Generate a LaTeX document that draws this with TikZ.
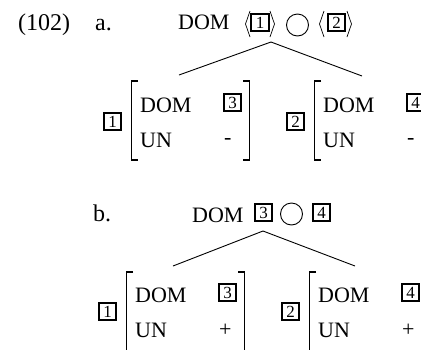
\documentclass[tikz,border=0pt]{standalone}
\usepackage{fontspec}
\setmainfont{Liberation Serif}
\begin{document}
\begin{tikzpicture}[x=1pt,y=-1pt,
  lbl/.style={inner sep=0pt, anchor=base west, font=\fontsize{24}{28}\selectfont},
  feat/.style={inner sep=0pt, anchor=base west, font=\fontsize{22}{26}\selectfont},
  tag/.style={draw, line width=1.8pt, minimum width=17.5pt, minimum height=17.5pt, inner sep=0pt, font=\fontsize{17}{20}\selectfont},
  brk/.style={line width=1.3pt},
  edge/.style={line width=0.9pt},
  ang/.style={line width=0.7pt},
  circ/.style={draw, circle, line width=0.9pt, minimum size=22pt, inner sep=0pt}]
\useasboundingbox (0,0) rectangle (421,349);
\clip (0,0) rectangle (421,349);

% ---------- (102) a. ----------
\node[lbl] (num) at (18,30) {(102)};
\node[lbl] (la) at (95,30) {a.};
\node[feat] (adom) at (178,29) {DOM};
\node[tag] (at1) at (260,22.5) {1};
\node[circ] (acirc) at (297.5,25) {};
\node[tag] (at2) at (336.5,22.5) {2};
% angle brackets
\draw[ang] (250,11) -- (245.5,24) -- (250,37);
\draw[ang] (270,11) -- (274.5,24) -- (270,37);
\draw[ang] (324,11) -- (319.5,24) -- (324,37);
\draw[ang] (347,11) -- (351.5,24) -- (347,37);
% tree
\coordinate (aapex) at (271,42);
\coordinate (aleft) at (179,75);
\coordinate (aright) at (362,76);
\draw[edge] (aapex) -- (aleft);
\draw[edge] (aapex) -- (aright);

% left AVM (a)
\node[tag] (al1) at (112.5,121.5) {1};
\draw[brk] (138,81) -- (131.5,81) -- (131.5,160) -- (138,160);
\node[feat] (aldom) at (140,112) {DOM};
\node[tag] (al3) at (232.5,102.5) {3};
\node[feat] (alun) at (140,147) {UN};
\node[feat] (alv) at (224,144.6) {-};
\draw[brk] (243,81) -- (249.5,81) -- (249.5,160) -- (243,160);

% right AVM (a)
\node[tag] (ar2) at (295.5,121.5) {2};
\draw[brk] (321,81) -- (314.5,81) -- (314.5,160) -- (321,160);
\node[feat] (ardom) at (323,112) {DOM};
\node[tag] (ar4) at (415.5,102.5) {4};
\node[feat] (arun) at (323,147) {UN};
\node[feat] (arv) at (407,144.6) {-};
\draw[brk] (426,81) -- (432.5,81) -- (432.5,160) -- (426,160);

% ---------- b. ----------
\node[lbl] (lb) at (93,221) {b.};
\node[feat] (bdom) at (192,222) {DOM};
\node[tag] (bt3) at (263.5,212.5) {3};
\node[circ] (bcirc) at (291.5,214) {};
\node[tag] (bt4) at (321.5,212.5) {4};
% tree
\coordinate (bapex) at (263,231);
\coordinate (bleft) at (173,266);
\coordinate (bright) at (355,266);
\draw[edge] (bapex) -- (bleft);
\draw[edge] (bapex) -- (bright);

% left AVM (b)
\node[tag] (bl1) at (107.5,311.5) {1};
\draw[brk] (133,272) -- (126.5,272) -- (126.5,351) -- (133,351);
\node[feat] (bldom) at (135,302) {DOM};
\node[tag] (bl3) at (227.5,292.5) {3};
\node[feat] (blun) at (135,337) {UN};
\node[feat] (blv) at (218.8,336.6) {+};
\draw[brk] (238,272) -- (244.5,272) -- (244.5,351) -- (238,351);

% right AVM (b)
\node[tag] (br2) at (290.5,311.5) {2};
\draw[brk] (316,272) -- (309.5,272) -- (309.5,351) -- (316,351);
\node[feat] (brdom) at (318,302) {DOM};
\node[tag] (br4) at (410.5,292.5) {4};
\node[feat] (brun) at (318,337) {UN};
\node[feat] (brv) at (401.8,336.6) {+};
\draw[brk] (421,272) -- (427.5,272) -- (427.5,351) -- (421,351);
\end{tikzpicture}
\end{document}
